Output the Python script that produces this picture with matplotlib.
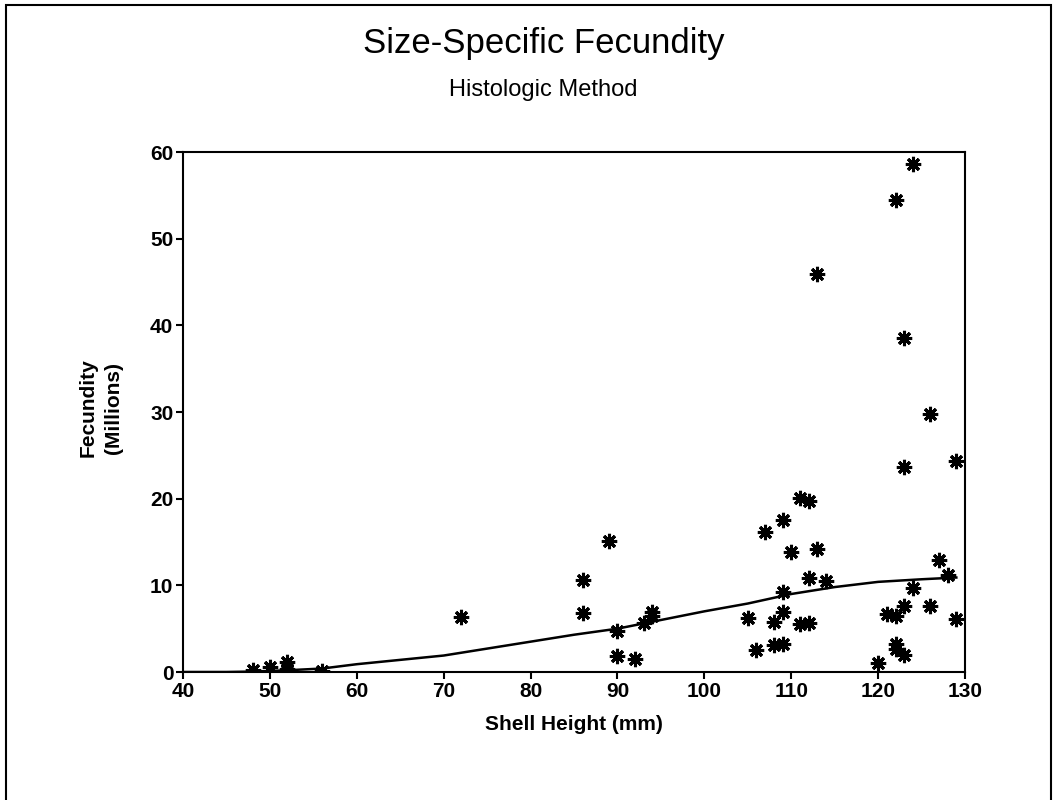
import matplotlib
matplotlib.use("Agg")
import matplotlib.pyplot as plt
from matplotlib.patches import Rectangle

plt.rcParams["font.family"] = ["Liberation Sans", "DejaVu Sans"]

# Observed fecundity (millions) vs shell height (mm)
shell_height = [48, 50, 52, 52, 56, 72,
                86, 86, 89, 90, 90, 92, 93, 94, 94, 105, 106,
                111, 112, 109, 107, 110, 113, 112, 114, 109, 109, 108, 111,
                112, 108, 109, 113, 122, 124,
                120, 122, 122, 123, 121, 122, 123, 126, 124, 127, 128, 129,
                123, 126, 123, 129]
fecundity = [0.2, 0.6, 1.2, 0.4, 0.1, 6.3,
             10.6, 6.8, 15.1, 4.7, 1.8, 1.5, 5.6, 6.5, 6.9, 6.2, 2.5,
             20.1, 19.7, 17.5, 16.2, 13.8, 14.2, 10.8, 10.5, 9.2, 6.9, 5.8,
             5.5, 5.6, 3.1, 3.2, 45.9, 54.5, 58.6,
             1.0, 3.2, 2.7, 2.0, 6.7, 6.5, 7.6, 7.6, 9.7, 12.9, 11.2, 6.1,
             38.5, 29.8, 23.7, 24.3]

# Fitted curve
fit_x = [40, 45, 48, 52, 56, 60, 65, 70, 75, 80, 85, 90, 95, 100, 105,
         110, 115, 120, 125, 129]
fit_y = [0.0, 0.0, 0.05, 0.2, 0.4, 0.9, 1.4, 1.9, 2.7, 3.5, 4.3, 5.0, 6.0,
         7.0, 7.9, 9.0, 9.8, 10.4, 10.7, 10.9]

x_ticks = list(range(40, 131, 10))
y_ticks = list(range(0, 61, 10))

fig = plt.figure(figsize=(10.55, 8), dpi=100)
ax = fig.add_axes([0.1735, 0.16, 0.7412, 0.65])

ax.plot(fit_x, fit_y, color="black", linewidth=1.8, zorder=2)
ax.plot(shell_height, fecundity, linestyle="none", marker=(8, 2, 0),
        markersize=11, markeredgewidth=2.2, color="black", zorder=3)

ax.set_xlim(40, 130)
ax.set_ylim(0, 60)
ax.set_xticks(x_ticks)
ax.set_yticks(y_ticks)
ax.tick_params(direction="out", length=5, width=1.5, labelsize=15, pad=2)
for lbl in ax.get_xticklabels() + ax.get_yticklabels():
    lbl.set_fontweight("bold")
for s in ax.spines.values():
    s.set_linewidth(1.5)

ax.set_xlabel("Shell Height (mm)", fontsize=15, fontweight="bold", labelpad=10)

fig.text(0.084, 0.49, "Fecundity", rotation=90, ha="center", va="center",
         fontsize=15, fontweight="bold")
fig.text(0.108, 0.49, "(Millions)", rotation=90, ha="center", va="center",
         fontsize=15, fontweight="bold")

fig.text(0.515, 0.945, "Size-Specific Fecundity", ha="center", va="center",
         fontsize=25)
fig.text(0.515, 0.888, "Histologic Method", ha="center", va="center",
         fontsize=17)

# outer frame around the whole figure
fig.patches.append(Rectangle((0.006, -0.02), 0.99, 1.014, transform=fig.transFigure,
                             fill=False, edgecolor="black", linewidth=1.5))

fig.savefig("out.png", dpi=100)
